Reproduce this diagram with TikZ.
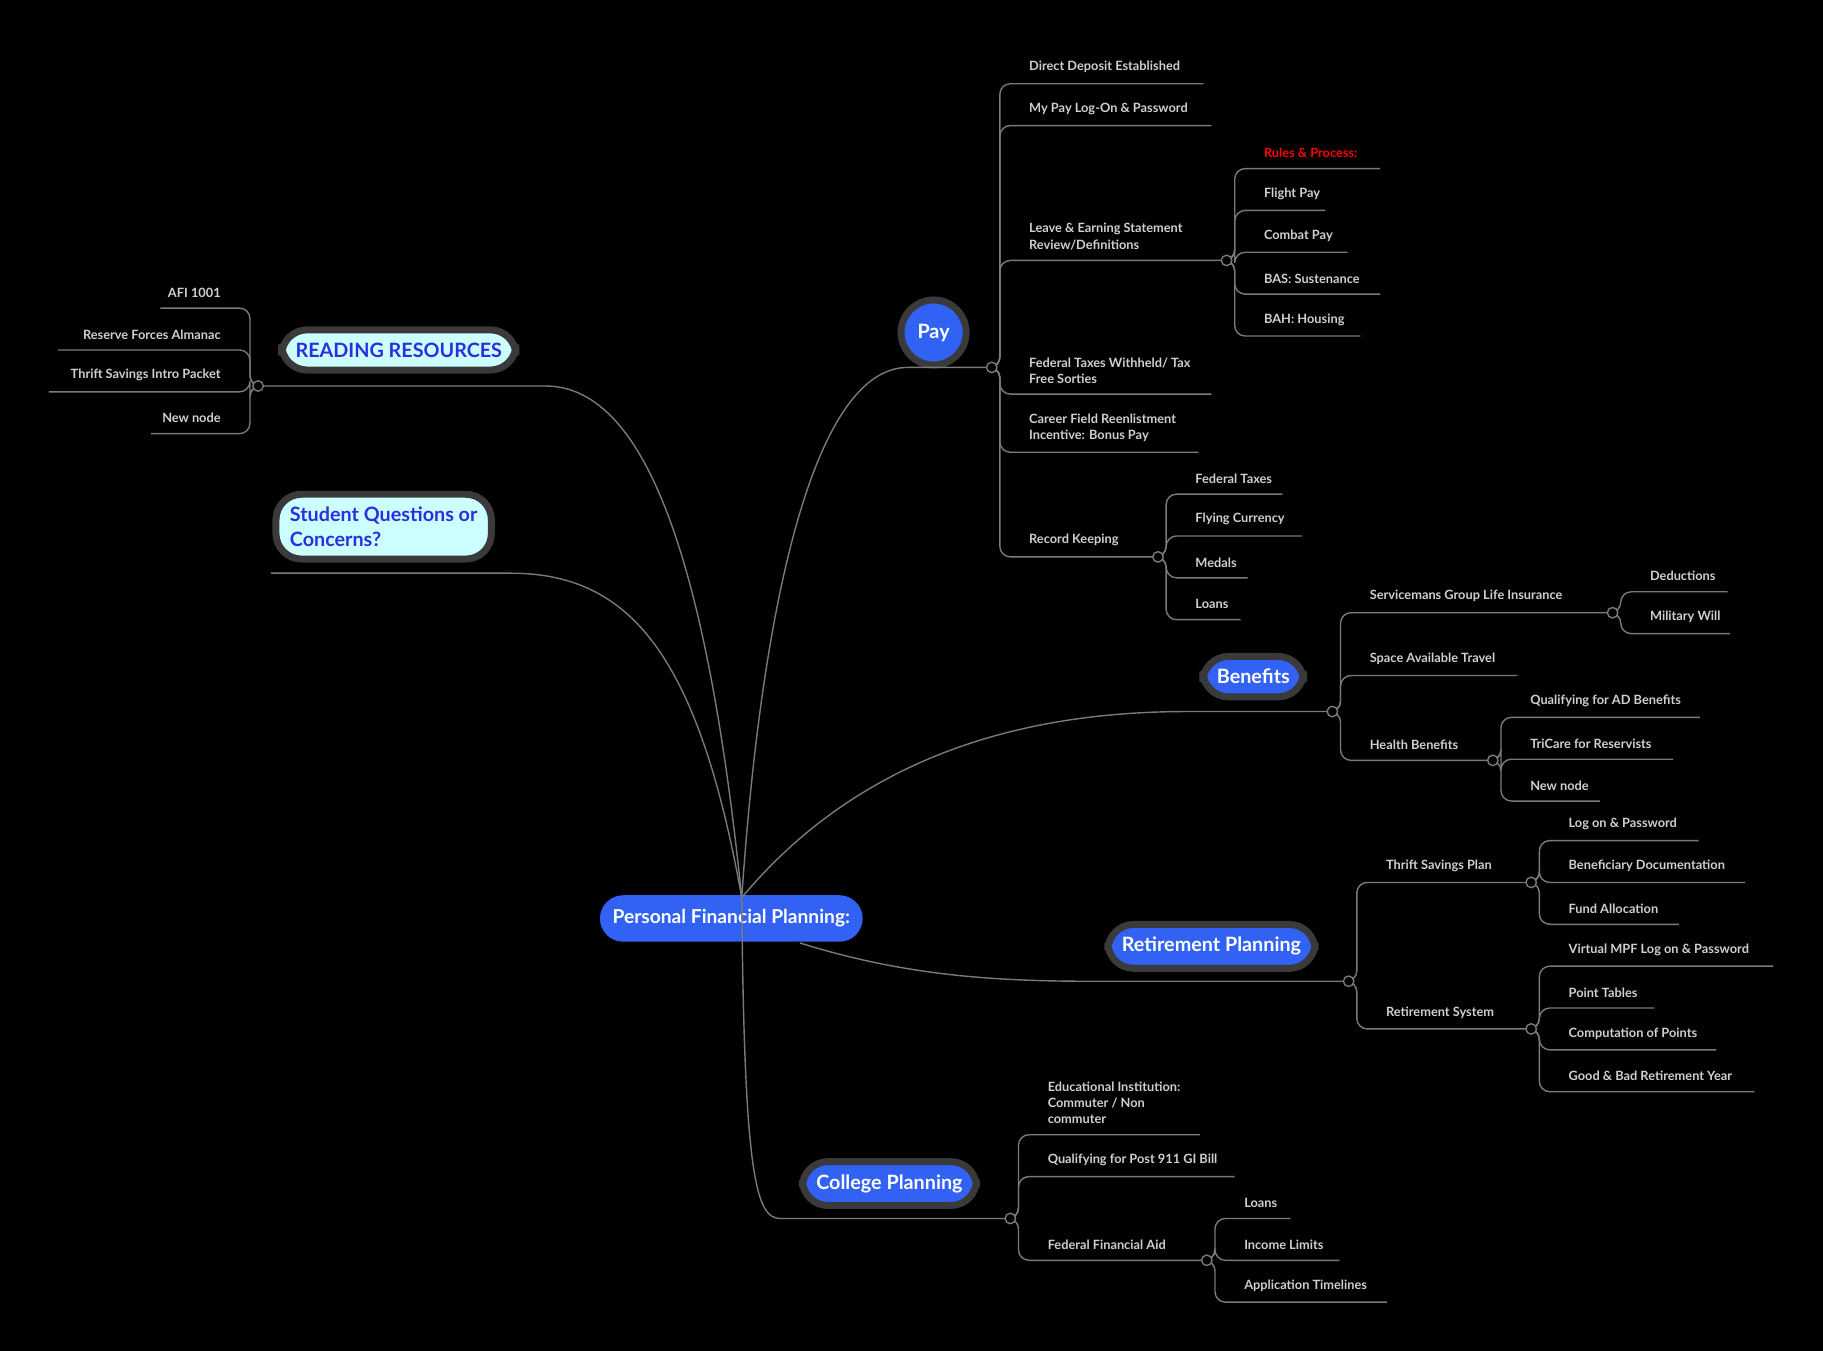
\documentclass[tikz,border=0pt]{standalone}
\usepackage{fontspec}
\setmainfont{Lato}
\usetikzlibrary{positioning}

\definecolor{mapblue}{HTML}{3162F4}
\definecolor{mapcyan}{HTML}{CCFFFF}
\definecolor{mapink}{HTML}{2A2FE0}
\definecolor{rim}{HTML}{3A3A3A}
\definecolor{wire}{HTML}{7A7A7A}
\definecolor{leafgray}{HTML}{CFCFCF}

\tikzset{
  branch/.style={wire,line width=1.2pt,rounded corners=9pt},
  joint/.style={circle,draw=wire,line width=1.2pt,fill=black,minimum size=9pt,inner sep=0pt},
  leaf/.style={anchor=south west,inner sep=0pt,text=leafgray,font=\fontsize{11}{14}\selectfont\bfseries,align=left},
  leafl/.style={leaf,anchor=south east,align=right},
  topic/.style={rounded corners=22pt,fill=mapblue,draw=rim,line width=6pt,text=white,
    font=\fontsize{17}{20}\selectfont\bfseries,inner xsep=12pt,inner ysep=11pt},
  resource/.style={topic,fill=mapcyan,text=mapink,align=left}
}
% leaf to the right: name, joint, branch x, underline y, end x, text
\newcommand\leaf[6]{%
  \node[leaf] (#1) at (#3+25,#4-9) {#6};
  \draw[branch] (#2) -| (#3,#4) -- (#5,#4);}
% leaf to the left
\newcommand\leafl[6]{%
  \node[leafl] (#1) at (#3-25,#4-9) {#6};
  \draw[branch] (#2) -| (#3,#4) -- (#5,#4);}

\begin{document}
\begin{tikzpicture}[x=1pt,y=-1pt]
  \useasboundingbox[fill=black] (0,0) rectangle (1568,1162);

  % main topics
  \node[rounded corners=20pt,fill=mapblue,text=white,font=\fontsize{16.5}{19}\selectfont\bfseries,
    minimum width=226pt,minimum height=40pt] (hub) at (629,790) {Personal Financial Planning:};
  \node[circle,fill=mapblue,draw=rim,line width=6pt,text=white,font=\fontsize{17}{20}\selectfont\bfseries,
    minimum size=56pt,inner sep=0pt] (pay) at (803,286) {Pay};
  \node[topic] (benefits) at (1078,582) {Benefits};
  \node[topic] (retire) at (1042,814) {Retirement Planning};
  \node[topic] (college) at (765,1018) {College Planning};
  \node[resource] (reading) at (343,301) {READING RESOURCES};
  \node[resource,font=\fontsize{17}{21}\selectfont\bfseries] (student) at (330,453) {Student Questions or\\Concerns?};

  \coordinate (hubtop) at (638,772);
  \coordinate (hubbot) at (688,811);

  % joints
  \coordinate (jpay) at (853,316);
  \coordinate (jles) at (1055,224);
  \coordinate (jrec) at (996,479);
  \coordinate (jben) at (1146,612);
  \coordinate (jsgli) at (1387,527);
  \coordinate (jhealth) at (1284,654);
  \coordinate (jret) at (1160,844);
  \coordinate (jtsp) at (1317,759);
  \coordinate (jsys) at (1317,885);
  \coordinate (jcol) at (869,1048);
  \coordinate (jffa) at (1038,1084);
  \coordinate (jread) at (222,332);

  % topic connectors
  \draw[branch] (hubtop) .. controls (655,520) and (700,316) .. (790,316) -- (jpay);
  \draw[branch] (hubtop) .. controls (740,650) and (880,612) .. (1030,612) -- (jben);
  \draw[branch] (hubbot) .. controls (780,840) and (860,844) .. (950,844) -- (jret);
  \draw[branch] (hubtop) .. controls (640,1010) and (650,1048) .. (680,1048) -- (jcol);
  \draw[branch] (hubtop) .. controls (610,500) and (560,332) .. (460,332) -- (jread);
  \draw[branch] (hubtop) .. controls (600,560) and (540,493) .. (430,493) -- (233,493);

  % pay
  \leaf{direct}{jpay}{860}{72}{1035}{Direct Deposit Established}
  \leaf{mypay}{jpay}{860}{108}{1042}{My Pay Log-On \& Password}
  \leaf{les}{jpay}{860}{224}{1055}{Leave \& Earning Statement\\Review/Definitions}
  \leaf{fedtax}{jpay}{860}{339}{1042}{Federal Taxes Withheld/ Tax\\Free Sorties}
  \leaf{career}{jpay}{860}{389}{1031}{Career Field Reenlistment\\Incentive: Bonus Pay}
  \leaf{record}{jpay}{860}{479}{996}{Record Keeping}

  \node[leaf,text=red] (rules) at (1087,136) {Rules \& Process:};
  \draw[branch] (jles) -| (1062,145) -- (1187,145);
  \leaf{flight}{jles}{1062}{181}{1140}{Flight Pay}
  \leaf{combat}{jles}{1062}{217}{1159}{Combat Pay}
  \leaf{bas}{jles}{1062}{253}{1187}{BAS: Sustenance}
  \leaf{bah}{jles}{1062}{289}{1170}{BAH: Housing}

  \leaf{rtax}{jrec}{1003}{425}{1103}{Federal Taxes}
  \leaf{flying}{jrec}{1003}{461}{1120}{Flying Currency}
  \leaf{medals}{jrec}{1003}{497}{1073}{Medals}
  \leaf{rloans}{jrec}{1003}{533}{1067}{Loans}

  % benefits
  \leaf{sgli}{jben}{1153}{527}{1387}{Servicemans Group Life Insurance}
  \leaf{space}{jben}{1153}{581}{1305}{Space Available Travel}
  \leaf{health}{jben}{1153}{654}{1284}{Health Benefits}
  \leaf{deduct}{jsgli}{1394}{509}{1486}{Deductions}
  \leaf{will}{jsgli}{1394}{545}{1488}{Military Will}
  \leaf{qualad}{jhealth}{1291}{617}{1462}{Qualifying for AD Benefits}
  \leaf{tricare}{jhealth}{1291}{653}{1439}{TriCare for Reservists}
  \leaf{hnew}{jhealth}{1291}{689}{1376}{New node}

  % retirement
  \leaf{tsp}{jret}{1167}{759}{1317}{Thrift Savings Plan}
  \leaf{rsys}{jret}{1167}{885}{1317}{Retirement System}
  \leaf{logon}{jtsp}{1324}{723}{1461}{Log on \& Password}
  \leaf{benef}{jtsp}{1324}{759}{1501}{Beneficiary Documentation}
  \leaf{fund}{jtsp}{1324}{795}{1444}{Fund Allocation}
  \leaf{mpf}{jsys}{1324}{831}{1525}{Virtual MPF Log on \& Password}
  \leaf{points}{jsys}{1324}{867}{1423}{Point Tables}
  \leaf{comp}{jsys}{1324}{903}{1476}{Computation of Points}
  \leaf{good}{jsys}{1324}{939}{1509}{Good \& Bad Retirement Year}

  % college
  \leaf{edu}{jcol}{876}{976}{1032}{Educational Institution:\\Commuter / Non\\commuter}
  \leaf{gibill}{jcol}{876}{1012}{1062}{Qualifying for Post 911 GI Bill}
  \leaf{ffa}{jcol}{876}{1084}{1038}{Federal Financial Aid}
  \leaf{floans}{jffa}{1045}{1048}{1110}{Loans}
  \leaf{income}{jffa}{1045}{1084}{1152}{Income Limits}
  \leaf{timeline}{jffa}{1045}{1120}{1193}{Application Timelines}

  % reading resources
  \leafl{afi}{jread}{215}{265}{138}{AFI 1001}
  \leafl{almanac}{jread}{215}{301}{50}{Reserve Forces Almanac}
  \leafl{packet}{jread}{215}{337}{42}{Thrift Savings Intro Packet}
  \leafl{rnew}{jread}{215}{373}{130}{New node}

  % joint rings on top
  \foreach \j in {jpay,jles,jrec,jben,jsgli,jhealth,jret,jtsp,jsys,jcol,jffa,jread}
    \node[joint] at (\j) {};
\end{tikzpicture}
\end{document}
